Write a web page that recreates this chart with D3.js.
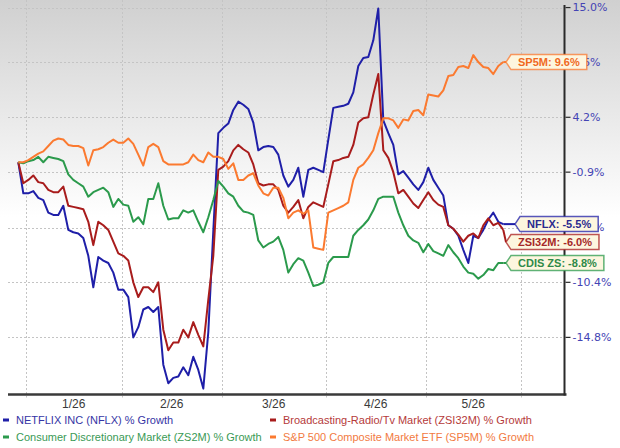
<!DOCTYPE html>
<html><head><meta charset="utf-8">
<script src="https://cdn.jsdelivr.net/npm/d3@7"></script>
<style>
html,body{margin:0;padding:0;background:#fff;}
svg{display:block;}
</style>
</head><body>
<svg id="chart" width="620" height="448"></svg>
<script>
// ---------- data ----------
const monthLabels = ["1/26", "2/26", "3/26", "4/26", "5/26"];
const monthBounds = [1.5, 20.7, 40.7, 61.5, 81.5, 100.5];   // trading-day index of month boundaries
const yTickValues = [15.2, 9.6, 4.2, -0.9, -5.8, -10.4, -14.8];
const yTickLabels = ["15.0%", "9.6%", "4.2%", "-0.9%", "-5.8%", "-10.4%", "-14.8%"];

const seriesNames = [
  "NETFLIX INC (NFLX) % Growth",
  "Broadcasting-Radio/Tv Market (ZSI32M) % Growth",
  "Consumer Discretionary Market (ZS2M) % Growth",
  "S&P 500 Composite Market ETF (SP5M) % Growth"
];
const seriesTags = ["NFLX", "ZSI32M", "CDIS ZS", "SP5M"];

const nflx = [0.0,-2.8,-2.8,-2.6,-3.2,-3.4,-4.5,-4.7,-4.7,-3.9,
  -6.0,-6.2,-6.3,-6.7,-8.2,-10.8,-8.3,-8.6,-8.8,-9.6,
  -11.0,-11.0,-11.6,-14.8,-14.0,-12.6,-12.4,-12.8,-12.4,-16.9,
  -18.3,-17.9,-17.8,-17.1,-17.7,-16.3,-17.3,-18.7,-14.4,-6.1,
  2.7,3.2,3.6,4.9,5.7,5.4,5.0,3.7,1.1,1.4,
  1.5,1.4,0.7,-1.2,-2.2,-1.6,-0.5,-3.1,-0.7,-0.5,
  -0.7,-0.9,2.1,5.1,5.2,5.3,5.5,6.6,9.2,10.0,
  10.1,11.8,15.1,3.9,2.7,1.6,-1.1,-0.8,-1.4,-2.0,
  -2.5,-1.8,-0.5,-1.6,-2.3,-3.0,-5.6,-5.9,-6.5,-7.7,
  -8.8,-6.5,-6.7,-6.0,-5.1,-4.5,-5.3,-5.5];

const zsi32m = [0.0,-1.9,-1.6,-1.2,-1.8,-1.9,-2.5,-2.7,-2.7,-2.2,
  -3.9,-4.0,-4.1,-4.2,-5.3,-7.3,-5.3,-5.6,-6.0,-7.0,
  -8.0,-8.2,-8.6,-10.4,-11.6,-10.8,-10.8,-11.2,-10.4,-14.2,
  -15.8,-15.2,-15.2,-14.2,-14.8,-13.6,-14.6,-15.5,-11.8,-8.2,
  -0.7,-0.4,0.1,1.1,1.6,1.2,0.9,-0.2,-1.9,-2.1,
  -2.0,-2.0,-2.5,-3.9,-4.5,-4.0,-3.4,-5.0,-4.0,-3.6,
  -3.8,-4.0,-2.0,0.1,0.2,0.4,0.5,1.6,3.7,4.1,
  4.2,6.4,8.4,1.1,0.4,-0.9,-2.8,-2.5,-3.1,-3.7,
  -4.1,-3.4,-2.7,-3.4,-3.8,-4.0,-5.6,-5.9,-6.4,-7.0,
  -6.5,-6.3,-6.7,-5.6,-5.0,-5.6,-5.4,-6.0];

const zs2m = [0.0,-0.1,0.1,0.2,0.5,0.0,0.5,0.4,0.3,0.1,
  -1.1,-1.6,-1.9,-2.2,-3.1,-2.7,-2.5,-2.3,-2.7,-4.0,
  -3.3,-3.8,-3.9,-5.3,-4.9,-5.5,-3.3,-3.3,-1.9,-3.9,
  -5.1,-5.0,-5.0,-4.3,-4.5,-4.3,-5.3,-6.2,-4.9,-3.4,
  -1.7,-2.2,-2.8,-3.1,-3.9,-4.4,-4.5,-4.7,-6.9,-7.5,
  -7.2,-7.0,-6.6,-7.7,-9.6,-8.9,-8.4,-8.6,-9.6,-10.7,
  -10.6,-10.4,-8.8,-8.3,-8.3,-8.3,-8.3,-6.5,-6.0,-5.6,
  -5.1,-4.3,-3.3,-3.1,-3.1,-3.1,-4.5,-5.6,-6.5,-6.9,
  -7.1,-7.9,-7.2,-7.8,-8.0,-8.2,-7.3,-7.9,-8.4,-9.1,
  -9.6,-9.7,-10.1,-9.8,-9.3,-9.4,-8.8,-8.8];

const sp5m = [0.0,0.0,0.2,0.5,0.8,1.0,1.5,2.0,2.2,2.1,
  1.6,1.5,1.5,1.3,-0.3,1.1,1.2,1.4,1.8,2.1,
  1.8,1.8,2.2,1.7,0.7,-0.3,1.4,1.7,1.4,0.1,
  -0.2,-0.2,-0.2,-0.2,0.0,0.7,0.2,0.0,0.9,0.5,
  0.5,0.3,-0.6,-0.1,-1.6,-1.6,-1.2,-1.0,-2.1,-2.8,
  -3.0,-2.3,-2.3,-3.2,-5.0,-4.5,-4.3,-4.6,-4.3,-7.5,
  -7.6,-7.7,-4.5,-4.3,-4.1,-3.9,-3.6,-1.6,-0.5,-0.2,
  0.4,1.1,2.7,4.1,4.1,3.9,3.2,4.0,3.9,4.8,
  4.9,4.4,6.4,6.3,6.2,6.8,8.2,8.3,9.1,9.2,
  9.0,10.3,9.6,9.1,9.0,8.4,9.2,9.6];

// ---------- drawing ----------
const W = 620, H = 448;
const svg = d3.select("#chart");
const lineColors = ["#1f1fa8", "#a81c1c", "#2b9a4c", "#fb7a30"];
const legendText = ["#3535a5", "#b53a3a", "#3a9a55", "#f27a42"];
const tagText = ["#2a2a8e", "#a52828", "#2e8a48", "#f0691e"];

const plotLeft = 8, plotRight = 565, plotTop = 0, plotBottom = 394.5;

const x = d3.scaleLinear().domain([0, nflx.length - 1]).range([18.3, 503.3]);
const yScale = d3.scaleLog().domain([1 - 0.191, 1 + 0.160]).range([394, 0]);
const y = v => yScale(1 + v / 100);

// background gradient
const defs = svg.append("defs");
const grad = defs.append("linearGradient").attr("id", "bg").attr("x1", 0).attr("y1", 0).attr("x2", 0).attr("y2", 1);
grad.append("stop").attr("offset", "0%").attr("stop-color", "#d0d0d0");
grad.append("stop").attr("offset", "55%").attr("stop-color", "#ffffff");
grad.append("stop").attr("offset", "100%").attr("stop-color", "#ffffff");
svg.append("rect").attr("x", 0).attr("y", 0).attr("width", W).attr("height", plotBottom).attr("fill", "url(#bg)");

// horizontal gridlines
svg.append("g").selectAll("line").data(yTickValues).join("line")
  .attr("x1", plotLeft).attr("x2", plotRight)
  .attr("y1", d => Math.round(y(d)) + 0.5).attr("y2", d => Math.round(y(d)) + 0.5)
  .attr("stroke", "#c4c4c4").attr("stroke-width", 1).attr("stroke-dasharray", "2,2");

// vertical gridlines (month boundaries)
svg.append("g").selectAll("line").data(monthBounds).join("line")
  .attr("x1", d => Math.round(x(d)) + 0.5).attr("x2", d => Math.round(x(d)) + 0.5)
  .attr("y1", plotTop).attr("y2", plotBottom + 3)
  .attr("stroke", "#c4c4c4").attr("stroke-width", 1).attr("stroke-dasharray", "2,2");

// series lines
const allSeries = [nflx, zsi32m, zs2m, sp5m];
const line = d3.line().x((d, i) => x(i)).y(d => y(d));
const drawOrder = [0, 1, 2, 3];
drawOrder.forEach(k => {
  svg.append("path").datum(allSeries[k]).attr("d", line)
    .attr("fill", "none").attr("stroke", lineColors[k]).attr("stroke-width", 2)
    .attr("stroke-linejoin", "round");
});

// x axis line
svg.append("line").attr("x1", plotLeft).attr("x2", plotRight + 1.5)
  .attr("y1", plotBottom).attr("y2", plotBottom)
  .attr("stroke", "#3a3a3a").attr("stroke-width", 2.5);

// month labels (centered between boundaries)
svg.append("g").selectAll("text").data(monthLabels).join("text")
  .attr("x", (d, i) => x((monthBounds[i] + monthBounds[i + 1]) / 2))
  .attr("y", 408)
  .attr("text-anchor", "middle")
  .attr("font-family", "Liberation Sans, Arial, sans-serif")
  .attr("font-size", 12).attr("fill", "#3a3a3a")
  .text(d => d);

// right y axis
const yAxis = d3.axisRight(d => d)
const yAx = d3.axisRight(d3.scaleLinear().domain([0, 1]).range([0, 1]));
const axisG = svg.append("g").attr("transform", `translate(${plotRight - 0.5},0)`);
axisG.append("line").attr("x1", 0).attr("x2", 0).attr("y1", 5).attr("y2", plotBottom + 1)
  .attr("stroke", "#2a2a2a").attr("stroke-width", 2);
const ticks = axisG.selectAll("g.tick").data(yTickValues).join("g")
  .attr("class", "tick").attr("transform", d => `translate(0,${y(d)})`);
ticks.append("line").attr("x1", 1).attr("x2", 6).attr("stroke", "#2a2a2a").attr("stroke-width", 1.2);
ticks.append("text").attr("x", 8).attr("dy", "0.35em")
  .attr("font-family", "DejaVu Sans, Verdana, sans-serif").attr("font-size", 11)
  .attr("fill", "#4444b4")
  .text((d, i) => yTickLabels[i]);

// end labels
const n = nflx.length - 1;
const tagOrder = [3, 0, 1, 2];
const tipX = [515, 506, 506, 506];
let placed = [];
tagOrder.forEach(k => {
  const ly = y(allSeries[k][n]);
  placed.push({k, ly, ty: ly});
});
placed.sort((a, b) => a.ly - b.ly);
for (let i = 1; i < placed.length; i++) {
  if (placed[i].ty < placed[i - 1].ty + 18) placed[i].ty = placed[i - 1].ty + 18;
}
placed.forEach(p => {
  const k = p.k;
  const lastX = x(n), lastY = p.ly;
  const tx = tipX[k], ty = p.ty;
  svg.append("path").attr("d", `M${lastX},${lastY}L${tx},${ty}`)
    .attr("stroke", lineColors[k]).attr("stroke-width", 2).attr("fill", "none");
  const g = svg.append("g");
  const label = `${seriesTags[k]}: ${allSeries[k][n].toFixed(1)}%`;
  const path = g.append("path");
  const t = g.append("text").attr("x", tx + 12).attr("y", ty).attr("dy", "0.36em")
    .attr("font-family", "Liberation Sans, Arial, sans-serif").attr("font-weight", "bold")
    .attr("font-size", 11).attr("fill", tagText[k]).text(label);
  const w = t.node().getComputedTextLength() + 14;
  const h = 15;
  path.attr("d", `M${tx},${ty}L${tx + 5},${ty - h / 2}L${tx + 5 + w},${ty - h / 2}L${tx + 5 + w},${ty + h / 2}L${tx + 5},${ty + h / 2}Z`)
    .attr("fill", "#fdf6df").attr("stroke", lineColors[k]).attr("stroke-opacity", 0.75).attr("stroke-width", 1.5);
});

// legend
const legX = [3, 270], legY = [420, 437];
const legPos = [[0, 0], [1, 0], [0, 1], [1, 1]];
seriesNames.forEach((name, k) => {
  const [c, r] = legPos[k];
  const g = svg.append("g").attr("transform", `translate(${legX[c]},${legY[r]})`);
  g.append("rect").attr("x", 0).attr("y", -1.5).attr("width", 6).attr("height", 3).attr("fill", lineColors[k]);
  g.append("text").attr("x", 13).attr("y", 0).attr("dy", "0.35em")
    .attr("font-family", "Liberation Sans, Arial, sans-serif").attr("font-size", 11)
    .attr("fill", legendText[k]).text(name);
});
</script>
</body></html>
